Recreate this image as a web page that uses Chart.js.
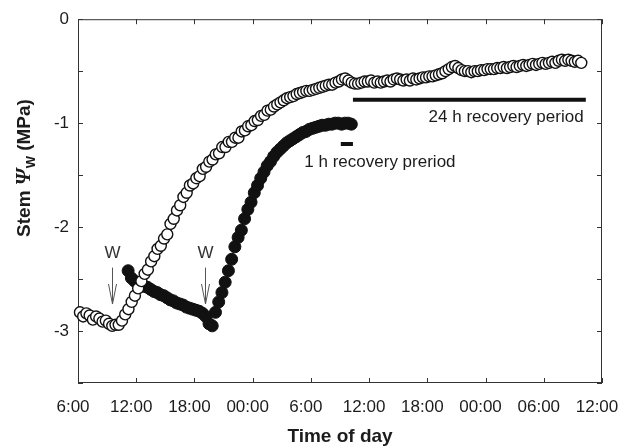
<!DOCTYPE html>
<html>
<head>
<meta charset="utf-8">
<script src="https://cdn.jsdelivr.net/npm/chart.js@4.4.1/dist/chart.umd.min.js"></script>
<style>
  html, body { margin: 0; padding: 0; background: #fff; }
  #wrap { width: 626px; height: 448px; }
</style>
</head>
<body>
<div id="wrap"><canvas id="chart" width="626" height="448"></canvas></div>
<script>
// times are minutes after 06:00 on the first day
const openMin = [
  12, 32, 52, 72, 92, 112, 132, 152, 172, 192,
  212, 232, 252, 272, 292, 312, 332, 352, 372, 392,
  412, 432, 452, 472, 492, 512, 532, 552, 572, 592,
  612, 632, 652, 672, 692, 712, 732, 752, 772, 792,
  812, 832, 852, 872, 892, 912, 932, 952, 972, 992,
  1012, 1032, 1052, 1072, 1092, 1112, 1132, 1152, 1172, 1192,
  1212, 1232, 1252, 1272, 1292, 1312, 1332, 1352, 1372, 1392,
  1412, 1432, 1452, 1472, 1492, 1512, 1532, 1552, 1572, 1592,
  1612, 1632, 1652, 1672, 1692, 1712, 1732, 1752, 1772, 1792,
  1812, 1832, 1852, 1872, 1892, 1912, 1932, 1952, 1972, 1992,
  2012, 2032, 2052, 2072, 2092, 2112, 2132, 2152, 2172, 2192,
  2212, 2232, 2252, 2272, 2292, 2312, 2332, 2352, 2372, 2392,
  2412, 2432, 2452, 2472, 2492, 2512, 2532, 2552, 2572, 2592,
  2612, 2632, 2652, 2672, 2692, 2712, 2732, 2752, 2772, 2792,
  2812, 2832, 2852, 2872, 2892, 2912, 2932, 2952, 2972, 2992,
  3012, 3032, 3052, 3072, 3092, 3112
];
const openPsi = [
  -2.82, -2.86, -2.83, -2.85, -2.89, -2.86, -2.88, -2.91, -2.90, -2.93,
  -2.95, -2.94, -2.94, -2.90, -2.84, -2.79, -2.72, -2.66, -2.59, -2.52,
  -2.45, -2.41, -2.33, -2.28, -2.21, -2.18, -2.11, -2.07, -1.97, -1.92,
  -1.84, -1.79, -1.71, -1.67, -1.60, -1.58, -1.53, -1.51, -1.44, -1.42,
  -1.37, -1.35, -1.30, -1.29, -1.23, -1.23, -1.18, -1.18, -1.14, -1.14,
  -1.08, -1.07, -1.03, -1.02, -0.98, -0.97, -0.93, -0.92, -0.88, -0.87,
  -0.84, -0.82, -0.80, -0.78, -0.76, -0.75, -0.74, -0.72, -0.71, -0.70,
  -0.69, -0.69, -0.68, -0.67, -0.66, -0.65, -0.64, -0.63, -0.63, -0.61,
  -0.60, -0.58, -0.57, -0.59, -0.61, -0.62, -0.62, -0.61, -0.60, -0.60,
  -0.59, -0.61, -0.60, -0.61, -0.60, -0.59, -0.60, -0.58, -0.57, -0.58,
  -0.59, -0.58, -0.59, -0.57, -0.58, -0.57, -0.56, -0.56, -0.55, -0.55,
  -0.54, -0.53, -0.52, -0.50, -0.48, -0.46, -0.45, -0.47, -0.49, -0.50,
  -0.50, -0.51, -0.50, -0.50, -0.49, -0.49, -0.48, -0.48, -0.48, -0.47,
  -0.47, -0.46, -0.47, -0.46, -0.45, -0.46, -0.45, -0.44, -0.45, -0.44,
  -0.43, -0.44, -0.43, -0.42, -0.43, -0.42, -0.41, -0.42, -0.40, -0.39,
  -0.40, -0.39, -0.40, -0.41, -0.40, -0.42
];

const fillMin = [
  310, 330, 350, 370, 390, 410, 430, 450, 470, 490,
  510, 530, 550, 570, 590, 610, 630, 650, 670, 690,
  710, 730, 750, 770, 790, 810, 830, 850, 870, 890,
  910, 930, 950, 970, 990, 1010, 1030, 1050, 1070, 1090,
  1110, 1130, 1150, 1170, 1190, 1210, 1230, 1250, 1270, 1290,
  1310, 1330, 1350, 1370, 1390, 1410, 1430, 1450, 1470, 1490,
  1510, 1530, 1550, 1570, 1590, 1610, 1630, 1650, 1670, 1690
];
const fillPsi = [
  -2.42, -2.49, -2.52, -2.54, -2.55, -2.57, -2.58, -2.60, -2.62, -2.63,
  -2.65, -2.66, -2.68, -2.70, -2.71, -2.73, -2.74, -2.75, -2.77, -2.78,
  -2.79, -2.80, -2.81, -2.83, -2.86, -2.93, -2.95, -2.82, -2.72, -2.63,
  -2.53, -2.42, -2.31, -2.19, -2.10, -2.03, -1.92, -1.83, -1.76, -1.67,
  -1.60, -1.53, -1.47, -1.41, -1.37, -1.32, -1.28, -1.25, -1.22, -1.19,
  -1.17, -1.15, -1.13, -1.11, -1.09, -1.08, -1.06, -1.05, -1.04, -1.03,
  -1.02, -1.02, -1.01, -1.01, -1.00, -1.00, -1.01, -1.00, -1.00, -1.01
];

const xTickLabels = ['6:00', '12:00', '18:00', '00:00', '6:00', '12:00', '18:00', '00:00', '06:00', '12:00'];

// recovery bars: start/end minute and level
const longBarMin = [1700, 3140];
const longBarPsi = -0.775;
const shortBarMin = [1625, 1700];
const shortBarPsi = -1.2;

// watering arrows (W)
const arrowMin = [208, 785];
const arrowTopPsi = -2.39;
const arrowTipPsi = -2.74;
const arrowLabelPsi = -2.25;

const noteText = ['24 h recovery period', '1 h recovery preriod'];
const noteMin = [2647, 1867];
const notePsi = [-0.94, -1.38];

const FONT = '"Liberation Sans", Arial, Helvetica, sans-serif';
const INK = '#1c1c1c';

const extras = {
  id: 'extras',
  beforeDatasetsDraw(chart) {
    const { ctx, chartArea: a, scales: { x, y } } = chart;
    ctx.save();
    ctx.strokeStyle = '#333';
    ctx.lineWidth = 1;
    ctx.strokeRect(a.left + 0.5, a.top + 0.5, a.right - a.left - 1, a.bottom - a.top - 1);
    // ticks point inward on all four sides
    ctx.beginPath();
    x.ticks.forEach(t => {
      const px = Math.round(x.getPixelForValue(t.value)) + 0.5;
      ctx.moveTo(px, a.bottom); ctx.lineTo(px, a.bottom - 5);
      ctx.moveTo(px, a.top); ctx.lineTo(px, a.top + 5);
    });
    y.ticks.forEach(t => {
      const py = Math.round(y.getPixelForValue(t.value)) + 0.5;
      ctx.moveTo(a.left, py); ctx.lineTo(a.left + 5, py);
      ctx.moveTo(a.right, py); ctx.lineTo(a.right - 5, py);
    });
    ctx.stroke();
    ctx.restore();
  },
  afterDatasetsDraw(chart) {
    const { ctx, scales: { x, y } } = chart;
    ctx.save();
    // W arrows
    ctx.strokeStyle = '#555';
    ctx.lineWidth = 1;
    ctx.fillStyle = '#333';
    ctx.font = '17px ' + FONT;
    ctx.textAlign = 'center';
    ctx.textBaseline = 'middle';
    arrowMin.forEach(m => {
      const px = Math.round(x.getPixelForValue(m)) + 0.5;
      const top = y.getPixelForValue(arrowTopPsi);
      const tip = y.getPixelForValue(arrowTipPsi);
      ctx.beginPath();
      ctx.moveTo(px, top); ctx.lineTo(px, tip);
      ctx.moveTo(px - 4, tip - 20); ctx.lineTo(px, tip); ctx.lineTo(px + 4, tip - 20);
      ctx.stroke();
      ctx.fillText('W', px, y.getPixelForValue(arrowLabelPsi));
    });
    // notes
    ctx.fillStyle = INK;
    noteText.forEach((t, i) => {
      ctx.fillText(t, x.getPixelForValue(noteMin[i]), y.getPixelForValue(notePsi[i]));
    });
    ctx.restore();
  },
  afterDraw(chart) {
    // y title with italic psi and subscript W
    const ctx = chart.ctx;
    ctx.save();
    ctx.translate(25, 168);
    ctx.rotate(-Math.PI / 2);
    ctx.fillStyle = INK;
    ctx.textBaseline = 'middle';
    const parts = [
      { t: 'Stem ', f: 'bold 19px ' + FONT, dy: 0 },
      { t: 'Ψ', f: 'italic bold 21px "Liberation Serif", serif', dy: 0 },
      { t: 'W', f: 'bold 13px ' + FONT, dy: 6 },
      { t: ' (MPa)', f: 'bold 19px ' + FONT, dy: 0 }
    ];
    let total = 0;
    parts.forEach(p => { ctx.font = p.f; p.w = ctx.measureText(p.t).width; total += p.w; });
    let cx = -total / 2;
    parts.forEach(p => { ctx.font = p.f; ctx.fillText(p.t, cx, p.dy); cx += p.w; });
    ctx.restore();
  }
};

new Chart(document.getElementById('chart'), {
  type: 'scatter',
  data: {
    datasets: [
      {
        data: openMin.map((m, i) => ({ x: m, y: openPsi[i] })),
        pointRadius: 5.5,
        pointBackgroundColor: '#fff',
        pointBorderColor: '#111',
        pointBorderWidth: 1.4,
        clip: false
      },
      {
        data: fillMin.map((m, i) => ({ x: m, y: fillPsi[i] })),
        pointRadius: 6,
        pointBackgroundColor: '#111',
        pointBorderColor: '#111',
        pointBorderWidth: 1,
        clip: false
      },
      {
        data: longBarMin.map(m => ({ x: m, y: longBarPsi })),
        showLine: true,
        borderColor: '#111',
        borderWidth: 4,
        pointRadius: 0
      },
      {
        data: shortBarMin.map(m => ({ x: m, y: shortBarPsi })),
        showLine: true,
        borderColor: '#111',
        borderWidth: 4,
        pointRadius: 0
      }
    ]
  },
  options: {
    responsive: false,
    animation: false,
    devicePixelRatio: 1,
    events: [],
    layout: { padding: { left: 0, top: 17, right: 24, bottom: 0 } },
    plugins: { legend: { display: false }, tooltip: { enabled: false } },
    scales: {
      x: {
        type: 'linear',
        min: 0,
        max: 3240,
        afterFit: s => { s.height = 65; s.paddingLeft = 0; s.paddingRight = 0; },
        grid: { display: false, drawTicks: false },
        border: { display: false },
        ticks: {
          stepSize: 360,
          autoSkip: false,
          maxRotation: 0,
          padding: 14,
          labelOffset: -5,
          color: INK,
          font: { family: FONT, size: 17 },
          callback: (v, i) => xTickLabels[i]
        },
        title: {
          display: true,
          text: 'Time of day',
          color: INK,
          font: { family: FONT, size: 19, weight: 'bold' },
          padding: { top: 0, bottom: 0 }
        }
      },
      y: {
        min: -3.5,
        max: 0,
        afterFit: s => { s.width = 78; },
        grid: { display: false, drawTicks: false },
        border: { display: false },
        ticks: {
          stepSize: 0.5,
          padding: 9,
          color: INK,
          font: { family: FONT, size: 17 },
          callback: v => Number.isInteger(v) ? String(v) : ''
        }
      }
    }
  },
  plugins: [extras]
});
</script>
</body>
</html>
